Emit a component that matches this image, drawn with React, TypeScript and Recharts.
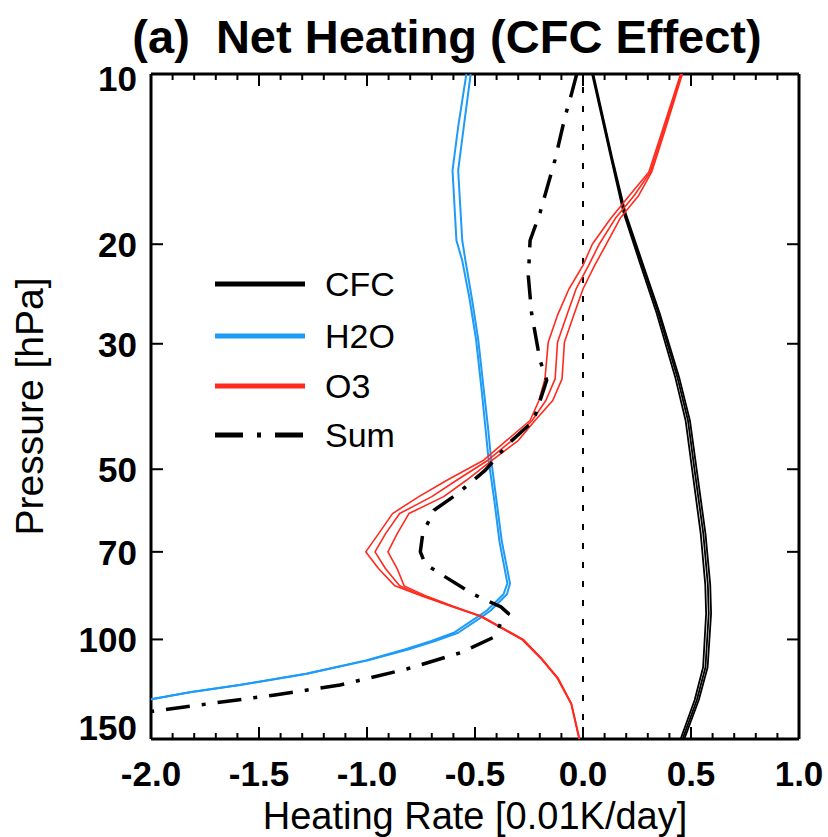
import React from 'react';
import { ScatterChart, Scatter, XAxis, YAxis, ReferenceLine, Legend, Label } from 'recharts';

const FONT = '"Liberation Sans", Arial, Helvetica, sans-serif';
const BLUE = '#1e9bf8';
const RED = '#ff2a1e';

// axis ticks
const X_TICKS = [
  -2.0, -1.9, -1.8, -1.7, -1.6, -1.5, -1.4, -1.3, -1.2, -1.1, -1.0, -0.9, -0.8, -0.7, -0.6, -0.5,
  -0.4, -0.3, -0.2, -0.1, 0.0, 0.1, 0.2, 0.3, 0.4, 0.5, 0.6, 0.7, 0.8, 0.9, 1.0,
];
const X_LABELLED = [-2.0, -1.5, -1.0, -0.5, 0.0, 0.5, 1.0];
const P_TICKS = [10, 20, 30, 50, 70, 100, 150];

// CFC heating (three ensemble members)
const CFC_P = [10, 14, 17.5, 21.5, 26.5, 34.5, 41, 50, 65, 80, 90, 112, 128, 150];
const CFC_1 = [0.042, 0.128, 0.186, 0.262, 0.341, 0.428, 0.475, 0.505, 0.545, 0.566, 0.57, 0.556, 0.517, 0.452];
const CFC_2 = [0.045, 0.131, 0.191, 0.269, 0.349, 0.438, 0.486, 0.516, 0.557, 0.578, 0.582, 0.567, 0.527, 0.461];
const CFC_3 = [0.048, 0.134, 0.195, 0.274, 0.355, 0.446, 0.495, 0.526, 0.567, 0.589, 0.593, 0.577, 0.536, 0.469];

// H2O heating
const H2O_P = [10, 12.4, 14.8, 19.7, 21.3, 25, 29.5, 36, 42.1, 48.2, 57, 67, 79.6, 83.2, 88.9, 91.3, 97.3, 100.7, 104.2, 108.9, 115, 120.4, 124, 127.6, 131.5];
const H2O_1 = [-0.54, -0.578, -0.604, -0.586, -0.56, -0.525, -0.495, -0.47, -0.452, -0.437, -0.41, -0.387, -0.35, -0.368, -0.445, -0.49, -0.598, -0.705, -0.826, -1.005, -1.283, -1.592, -1.822, -2.002, -2.2];
const H2O_2 = [-0.52, -0.552, -0.578, -0.559, -0.545, -0.514, -0.485, -0.46, -0.44, -0.425, -0.4, -0.376, -0.338, -0.352, -0.427, -0.47, -0.578, -0.685, -0.81, -0.995, -1.277, -1.588, -1.818, -1.998, -2.2];

// O3 heating
const O3_P = [10, 12.5, 14.9, 16.4, 18, 20, 21.8, 24, 26.7, 29.8, 34.6, 37.8, 41, 44.5, 48.2, 52.3, 55.9, 59.9, 65, 70, 75, 80.4, 84, 87.5, 91, 100, 108, 117, 130, 150];
const O3_1 = [0.452, 0.37, 0.305, 0.215, 0.129, 0.043, 0.0, -0.065, -0.118, -0.161, -0.176, -0.204, -0.245, -0.355, -0.46, -0.63, -0.76, -0.882, -0.946, -1.006, -0.946, -0.871, -0.74, -0.605, -0.476, -0.283, -0.196, -0.12, -0.055, -0.018];
const O3_2 = [0.456, 0.376, 0.312, 0.237, 0.15, 0.075, 0.026, -0.032, -0.075, -0.118, -0.129, -0.172, -0.235, -0.33, -0.44, -0.585, -0.7, -0.849, -0.914, -0.963, -0.914, -0.849, -0.73, -0.6, -0.473, -0.28, -0.194, -0.118, -0.054, -0.017];
const O3_3 = [0.46, 0.382, 0.318, 0.258, 0.172, 0.108, 0.054, 0.0, -0.043, -0.086, -0.097, -0.14, -0.222, -0.3, -0.42, -0.54, -0.645, -0.806, -0.86, -0.903, -0.86, -0.828, -0.72, -0.595, -0.47, -0.277, -0.192, -0.116, -0.053, -0.016];

// Sum
const SUM_P = [10, 10.8, 11.9, 14.2, 17.6, 19.7, 22.8, 26.5, 32.1, 34.8, 41.1, 45, 50.2, 55.2, 59.1, 65, 70, 73.5, 76.5, 83.2, 87.6, 90, 92.5, 99, 105.5, 112.8, 120.4, 125.5, 130.1, 134.1, 137];
const SUM_V = [-0.029, -0.052, -0.083, -0.13, -0.199, -0.245, -0.253, -0.238, -0.199, -0.168, -0.23, -0.344, -0.452, -0.58, -0.69, -0.742, -0.753, -0.731, -0.662, -0.508, -0.38, -0.345, -0.375, -0.41, -0.565, -0.816, -1.125, -1.434, -1.744, -2.0, -2.2];

const toPts = (ps: number[], vs: number[]) => ps.map((p, i) => ({ x: vs[i], y: p }));

const SERIES = [
  { key: 'cfc1', data: toPts(CFC_P, CFC_1), color: '#000', width: 1.8 },
  { key: 'cfc2', data: toPts(CFC_P, CFC_2), color: '#000', width: 1.8 },
  { key: 'cfc3', data: toPts(CFC_P, CFC_3), color: '#000', width: 1.8 },
  { key: 'h2o1', data: toPts(H2O_P, H2O_1), color: BLUE, width: 2 },
  { key: 'h2o2', data: toPts(H2O_P, H2O_2), color: BLUE, width: 2 },
  { key: 'o31', data: toPts(O3_P, O3_1), color: RED, width: 1.6 },
  { key: 'o32', data: toPts(O3_P, O3_2), color: RED, width: 1.6 },
  { key: 'o33', data: toPts(O3_P, O3_3), color: RED, width: 1.6 },
  { key: 'sum', data: toPts(SUM_P, SUM_V), color: '#000', width: 3.5, dash: '24 12 4 12' },
];

const noShape = () => <g />;

function XTick(props: any) {
  const { x, y, payload, top } = props;
  const v = payload.value;
  const major = X_LABELLED.includes(v);
  const len = major ? 12 : 6;
  const dir = top ? 1 : -1;
  return (
    <g>
      <line x1={x} y1={y} x2={x} y2={y + dir * len} stroke="#000" strokeWidth={2} />
      {!top && major && (
        <text x={x} y={y + 47} textAnchor="middle" fontSize={35} fontWeight="bold" fontFamily={FONT} fill="#000">
          {v.toFixed(1)}
        </text>
      )}
    </g>
  );
}

function YTick(props: any) {
  const { x, y, payload, right } = props;
  const dir = right ? -1 : 1;
  const shift = payload.value === 150 ? -12 : payload.value === 10 ? 4 : 0;
  return (
    <g>
      <line x1={x} y1={y} x2={x + dir * 12} y2={y} stroke="#000" strokeWidth={2} />
      {!right && (
        <text x={x - 14} y={y + 13 + shift} textAnchor="end" fontSize={35} fontWeight="bold" fontFamily={FONT} fill="#000">
          {payload.value}
        </text>
      )}
    </g>
  );
}

const LEGEND_ROWS = [
  { label: 'CFC', color: '#000', dash: undefined },
  { label: 'H2O', color: BLUE, dash: undefined },
  { label: 'O3', color: RED, dash: undefined },
  { label: 'Sum', color: '#000', dash: '28 14 4 14' },
];

function LegendBox() {
  return (
    <svg width={230} height={200}>
      {LEGEND_ROWS.map((r, i) => {
        const cy = [29, 81, 131, 180][i];
        return (
          <g key={r.label}>
            <line x1={10} x2={100} y1={cy} y2={cy} stroke={r.color} strokeWidth={5} strokeDasharray={r.dash} />
            <text x={120} y={cy + 12} fontSize={34} fontFamily={FONT} fill="#000">
              {r.label}
            </text>
          </g>
        );
      })}
    </svg>
  );
}

export default function App() {
  return (
    <div style={{ position: 'absolute', left: 0, top: 0, width: 828, height: 837, background: '#fff' }}>
      <div
        style={{
          position: 'absolute',
          left: 447,
          top: 10,
          transform: 'translateX(-50%)',
          whiteSpace: 'pre',
          fontFamily: FONT,
          fontWeight: 'bold',
          fontSize: 47,
          lineHeight: '54px',
          zIndex: 2,
        }}
      >
        {'(a)  Net Heating (CFC Effect)'}
      </div>
      <ScatterChart width={828} height={837} margin={{ top: 64, right: 19, bottom: 58, left: 131 }}>
        <XAxis
          type="number"
          dataKey="x"
          domain={[-2, 1]}
          allowDataOverflow
          ticks={X_TICKS}
          interval={0}
          height={40}
          tickSize={0}
          tickMargin={0}
          tickLine={false}
          axisLine={{ stroke: '#000', strokeWidth: 3 }}
          tick={<XTick />}
        >
          <Label
            content={(p: any) => {
              const vb = p.viewBox;
              return (
                <text x={vb.x + vb.width / 2} y={vb.y + 90} textAnchor="middle" fontSize={38} fontFamily={FONT} fill="#000">
                  Heating Rate [0.01K/day]
                </text>
              );
            }}
          />
        </XAxis>
        <XAxis
          xAxisId="top"
          orientation="top"
          type="number"
          dataKey="x"
          domain={[-2, 1]}
          allowDataOverflow
          ticks={X_TICKS}
          interval={0}
          height={10}
          tickSize={0}
          tickMargin={0}
          tickLine={false}
          axisLine={{ stroke: '#000', strokeWidth: 3 }}
          tick={<XTick top />}
        />
        <YAxis
          type="number"
          dataKey="y"
          scale="log"
          domain={[10, 150]}
          allowDataOverflow
          reversed
          ticks={P_TICKS}
          interval={0}
          width={20}
          tickSize={0}
          tickMargin={0}
          tickLine={false}
          axisLine={{ stroke: '#000', strokeWidth: 3 }}
          tick={<YTick />}
        >
          <Label
            content={(p: any) => {
              const vb = p.viewBox;
              const cy = vb.y + vb.height / 2;
              return (
                <text x={43} y={cy} transform={`rotate(-90, 43, ${cy})`} textAnchor="middle" fontSize={39} fontFamily={FONT} fill="#000">
                  Pressure [hPa]
                </text>
              );
            }}
          />
        </YAxis>
        <YAxis
          yAxisId="right"
          orientation="right"
          type="number"
          dataKey="y"
          scale="log"
          domain={[10, 150]}
          allowDataOverflow
          reversed
          ticks={P_TICKS}
          interval={0}
          width={10}
          tickSize={0}
          tickMargin={0}
          tickLine={false}
          axisLine={{ stroke: '#000', strokeWidth: 3 }}
          tick={<YTick right />}
        />
        <ReferenceLine x={0} stroke="#000" strokeWidth={2} strokeDasharray="6 13" />
        {SERIES.map((s) => (
          <Scatter
            key={s.key}
            name={s.key}
            data={s.data}
            fill={s.color}
            line={{ stroke: s.color, strokeWidth: s.width, strokeDasharray: s.dash, strokeLinejoin: 'round' }}
            lineType="joint"
            shape={noShape}
            legendType="none"
            isAnimationActive={false}
          />
        ))}
        <Legend
          layout="vertical"
          align="center"
          verticalAlign="middle"
          content={() => <LegendBox />}
          wrapperStyle={{ left: 205, top: 255, width: 230, height: 200 }}
        />
      </ScatterChart>
    </div>
  );
}
